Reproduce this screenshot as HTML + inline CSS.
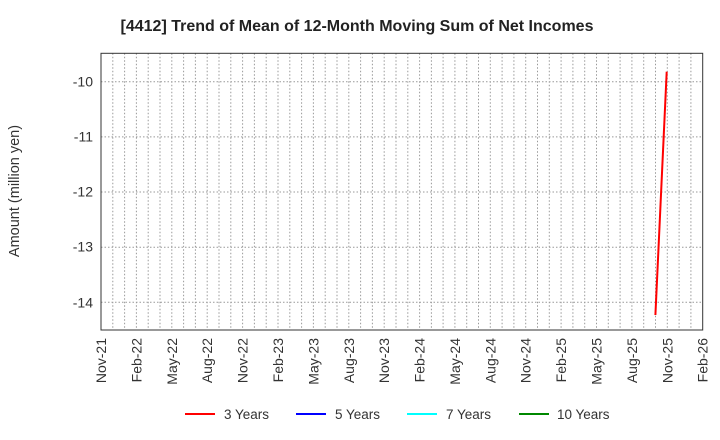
<!DOCTYPE html>
<html><head><meta charset="utf-8"><style>body{margin:0;background:#fff}svg{display:block;font-family:"Liberation Sans",Arial,sans-serif}</style></head>
<body>
<svg width="720" height="440" xmlns="http://www.w3.org/2000/svg">
<text x="357" y="31" font-size="16" font-weight="bold" text-anchor="middle" fill="#222">[4412]  Trend of Mean of 12-Month Moving Sum of Net Incomes</text>
<path fill="none" stroke="#999" stroke-width="1" stroke-dasharray="1.5,2" d="M112.8 53.3V330M124.6 53.3V330M136.4 53.3V330M148.2 53.3V330M160 53.3V330M171.8 53.3V330M183.6 53.3V330M195.4 53.3V330M207.2 53.3V330M219 53.3V330M230.8 53.3V330M242.6 53.3V330M254.4 53.3V330M266.2 53.3V330M278 53.3V330M289.8 53.3V330M301.6 53.3V330M313.4 53.3V330M325.2 53.3V330M337 53.3V330M348.8 53.3V330M360.6 53.3V330M372.4 53.3V330M384.2 53.3V330M396 53.3V330M407.8 53.3V330M419.6 53.3V330M431.4 53.3V330M443.1 53.3V330M454.9 53.3V330M466.7 53.3V330M478.5 53.3V330M490.3 53.3V330M502.1 53.3V330M513.9 53.3V330M525.7 53.3V330M537.5 53.3V330M549.3 53.3V330M561.1 53.3V330M572.9 53.3V330M584.7 53.3V330M596.5 53.3V330M608.3 53.3V330M620.1 53.3V330M631.9 53.3V330M643.7 53.3V330M655.5 53.3V330M667.3 53.3V330M679.1 53.3V330M690.9 53.3V330M101 81.7H702.7M101 136.9H702.7M101 192H702.7M101 247.2H702.7M101 302.3H702.7"/>
<rect x="101" y="53.3" width="601.7" height="276.7" fill="none" stroke="#333" stroke-width="1"/>
<g font-size="14" fill="#333" text-anchor="end">
<text x="93" y="86.5">-10</text><text x="93" y="141.5">-11</text><text x="93" y="196.5">-12</text><text x="93" y="251.5">-13</text><text x="93" y="307.5">-14</text>
</g>
<text transform="translate(19,191) rotate(-90)" font-size="14.5" fill="#333" text-anchor="middle">Amount (million yen)</text>
<g font-size="14" fill="#333" text-anchor="end">
<text transform="translate(106,338) rotate(-90)">Nov-21</text>
<text transform="translate(141.4,338) rotate(-90)">Feb-22</text>
<text transform="translate(176.8,338) rotate(-90)">May-22</text>
<text transform="translate(212.2,338) rotate(-90)">Aug-22</text>
<text transform="translate(247.6,338) rotate(-90)">Nov-22</text>
<text transform="translate(283,338) rotate(-90)">Feb-23</text>
<text transform="translate(318.4,338) rotate(-90)">May-23</text>
<text transform="translate(353.8,338) rotate(-90)">Aug-23</text>
<text transform="translate(389.2,338) rotate(-90)">Nov-23</text>
<text transform="translate(424.6,338) rotate(-90)">Feb-24</text>
<text transform="translate(459.9,338) rotate(-90)">May-24</text>
<text transform="translate(495.3,338) rotate(-90)">Aug-24</text>
<text transform="translate(530.7,338) rotate(-90)">Nov-24</text>
<text transform="translate(566.1,338) rotate(-90)">Feb-25</text>
<text transform="translate(601.5,338) rotate(-90)">May-25</text>
<text transform="translate(636.9,338) rotate(-90)">Aug-25</text>
<text transform="translate(672.3,338) rotate(-90)">Nov-25</text>
<text transform="translate(707.7,338) rotate(-90)">Feb-26</text>
</g>
<polyline points="655.4,315 666.7,71.7" fill="none" stroke="#f00" stroke-width="2"/>
<g font-size="13.5" fill="#333">
<line x1="185" y1="414" x2="215" y2="414" stroke="#f00" stroke-width="2"/><text x="224" y="419">3 Years</text>
<line x1="296" y1="414" x2="326" y2="414" stroke="#00f" stroke-width="2"/><text x="335" y="419">5 Years</text>
<line x1="407" y1="414" x2="437" y2="414" stroke="#0ff" stroke-width="2"/><text x="446" y="419">7 Years</text>
<line x1="519" y1="414" x2="549" y2="414" stroke="#080" stroke-width="2"/><text x="557" y="419">10 Years</text>
</g>
</svg>
</body></html>
